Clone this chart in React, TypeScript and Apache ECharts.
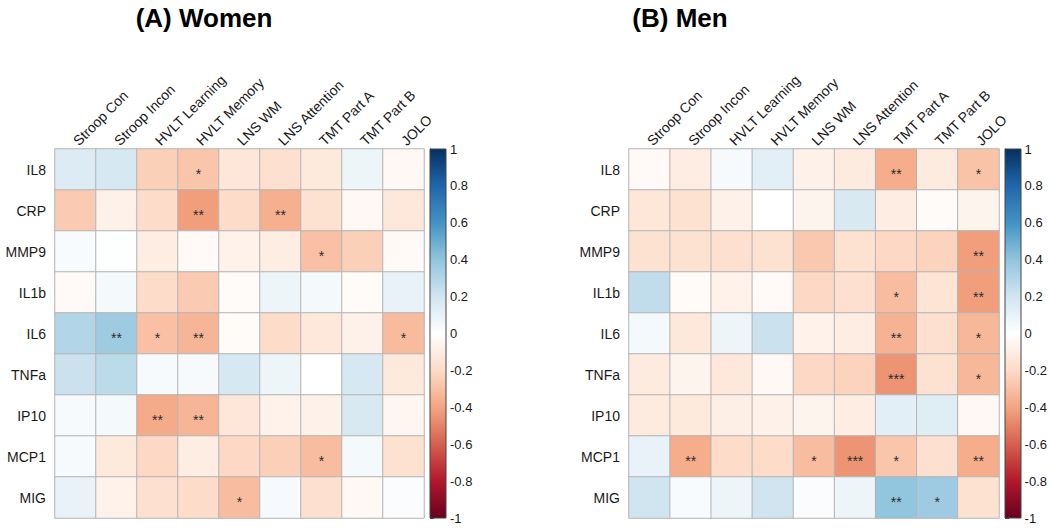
import React, { useEffect, useRef } from "react";
import * as echarts from "echarts";

const tests = ["Stroop Con", "Stroop Incon", "HVLT Learning", "HVLT Memory", "LNS WM", "LNS Attention", "TMT Part A", "TMT Part B", "JOLO"];
const markers = ["IL8", "CRP", "MMP9", "IL1b", "IL6", "TNFa", "IP10", "MCP1", "MIG"];

const womenValues = [
  [0.15, 0.18, -0.24, -0.28, -0.14, -0.17, -0.12, 0.08, -0.04],
  [-0.26, -0.08, -0.19, -0.42, -0.19, -0.36, -0.16, -0.04, -0.13],
  [0.03, 0.01, -0.1, -0.03, -0.07, -0.1, -0.3, -0.24, -0.03],
  [-0.03, 0.05, -0.19, -0.26, -0.02, 0.08, 0.05, -0.02, 0.1],
  [0.3, 0.36, -0.3, -0.34, -0.02, -0.19, -0.13, -0.08, -0.32],
  [0.22, 0.27, 0.04, 0.04, 0.18, 0.08, 0.0, 0.18, -0.12],
  [0.04, 0.05, -0.38, -0.34, -0.14, -0.07, -0.08, 0.17, -0.05],
  [0.04, -0.12, -0.21, -0.1, -0.21, -0.24, -0.31, 0.05, -0.16],
  [0.1, -0.07, -0.17, -0.19, -0.31, 0.04, -0.17, -0.04, 0.02],
];
const womenStars = [
  ["", "", "", "*", "", "", "", "", ""],
  ["", "", "", "**", "", "**", "", "", ""],
  ["", "", "", "", "", "", "*", "", ""],
  ["", "", "", "", "", "", "", "", ""],
  ["", "**", "*", "**", "", "", "", "", "*"],
  ["", "", "", "", "", "", "", "", ""],
  ["", "", "**", "**", "", "", "", "", ""],
  ["", "", "", "", "", "", "*", "", ""],
  ["", "", "", "", "*", "", "", "", ""],
];

const menValues = [
  [-0.03, -0.1, 0.04, 0.12, -0.08, -0.11, -0.37, -0.11, -0.29],
  [-0.14, -0.16, -0.08, 0.0, -0.06, 0.17, -0.1, -0.02, -0.06],
  [-0.16, -0.16, -0.17, -0.16, -0.27, -0.16, -0.21, -0.23, -0.42],
  [0.25, -0.02, -0.07, -0.03, -0.21, -0.17, -0.31, -0.15, -0.42],
  [0.05, -0.13, 0.08, 0.22, -0.07, -0.1, -0.35, -0.17, -0.33],
  [-0.11, -0.06, -0.13, -0.04, -0.21, -0.23, -0.45, -0.16, -0.33],
  [-0.11, -0.12, -0.09, -0.08, -0.06, -0.1, 0.12, 0.14, -0.04],
  [0.1, -0.37, -0.19, -0.19, -0.31, -0.45, -0.28, -0.17, -0.37],
  [0.2, 0.03, 0.08, 0.2, 0.02, 0.08, 0.4, 0.36, -0.16],
];
const menStars = [
  ["", "", "", "", "", "", "**", "", "*"],
  ["", "", "", "", "", "", "", "", ""],
  ["", "", "", "", "", "", "", "", "**"],
  ["", "", "", "", "", "", "*", "", "**"],
  ["", "", "", "", "", "", "**", "", "*"],
  ["", "", "", "", "", "", "***", "", "*"],
  ["", "", "", "", "", "", "", "", ""],
  ["", "**", "", "", "*", "***", "*", "", "**"],
  ["", "", "", "", "", "", "**", "*", ""],
];

const palette = ["#67001F", "#B2182B", "#D6604D", "#F4A582", "#FDDBC7", "#FFFFFF", "#D1E5F0", "#92C5DE", "#4393C3", "#2166AC", "#053061"];
const colorbarTicks = [-1, -0.8, -0.6, -0.4, -0.2, 0, 0.2, 0.4, 0.6, 0.8, 1];
const titles = ["(A) Women", "(B) Men"];

const FONT = "'Liberation Sans', Arial, Helvetica, sans-serif";

function buildData(values: number[][], stars: string[][]) {
  const out: any[] = [];
  values.forEach((row, r) =>
    row.forEach((v, c) => {
      out.push({ value: [c, r, v], star: stars[r][c] });
    })
  );
  return out;
}

export default function App() {
  const ref = useRef<HTMLDivElement>(null);
  useEffect(() => {
    if (!ref.current) return;
    const chart = echarts.init(ref.current, undefined, { renderer: "svg" });
    const panels = [
      { left: 55, top: 149, size: 369, cbLeft: 430, titleX: 204 },
      { left: 629, top: 149, size: 370, cbLeft: 1005, titleX: 680 },
    ];
    const grids: any[] = [];
    const xAxes: any[] = [];
    const yAxes: any[] = [];
    const series: any[] = [];
    const graphics: any[] = [];
    const datasets = [buildData(womenValues, womenStars), buildData(menValues, menStars)];
    const stops = palette
      .slice()
      .reverse()
      .map((c, i) => ({ offset: i / (palette.length - 1), color: c }));

    panels.forEach((p, i) => {
      grids.push({ left: p.left, top: p.top, width: p.size, height: 369 });
      xAxes.push({
        type: "category",
        data: tests,
        gridIndex: grids.length - 1,
        position: "top",
        axisLine: { show: false },
        axisTick: { show: false },
        splitLine: { show: false },
        axisLabel: { rotate: -45, interval: 0, margin: 6, fontSize: 14, color: "#1a1a1a", fontFamily: FONT },
      });
      yAxes.push({
        type: "category",
        data: markers,
        inverse: true,
        gridIndex: grids.length - 1,
        axisLine: { show: false },
        axisTick: { show: false },
        splitLine: { show: false },
        axisLabel: { margin: 9, fontSize: 14, color: "#1a1a1a", fontFamily: FONT },
      });
      series.push({
        type: "heatmap",
        xAxisIndex: xAxes.length - 1,
        yAxisIndex: yAxes.length - 1,
        data: datasets[i],
        itemStyle: { borderColor: "#b4b4b4", borderWidth: 1 },
        label: {
          show: true,
          formatter: (pr: any) => pr.data.star,
          fontSize: 14,
          color: "#2a2a2a",
          fontFamily: FONT,
          offset: [0, 4],
        },
        emphasis: { disabled: true },
      });
      grids.push({ left: p.cbLeft, top: p.top, width: 16, height: 369 });
      xAxes.push({ type: "value", gridIndex: grids.length - 1, show: false, min: 0, max: 1 });
      yAxes.push({
        type: "value",
        gridIndex: grids.length - 1,
        position: "right",
        min: -1,
        max: 1,
        interval: 0.2,
        axisLine: { show: true, lineStyle: { color: "#444", width: 1 } },
        axisTick: { show: true, length: 4, lineStyle: { color: "#444" } },
        splitLine: { show: false },
        axisLabel: {
          margin: 4,
          fontSize: 13,
          color: "#1a1a1a",
          fontFamily: FONT,
          customValues: colorbarTicks,
          formatter: (v: number) => String(Number(v.toFixed(1))),
        },
      });
      graphics.push({
        type: "rect",
        shape: { x: p.cbLeft, y: p.top, width: 16, height: 369 },
        style: { fill: new echarts.graphic.LinearGradient(0, 0, 0, 1, stops), stroke: "#444", lineWidth: 1 },
        z: 10,
      });
      graphics.push({
        type: "text",
        x: p.titleX,
        y: 18,
        style: {
          text: titles[i],
          font: `bold 26px ${FONT}`,
          fill: "#000",
          textAlign: "center",
          textVerticalAlign: "middle",
        },
        z: 10,
      });
    });

    chart.setOption({
      animation: false,
      backgroundColor: "#ffffff",
      grid: grids,
      xAxis: xAxes,
      yAxis: yAxes,
      visualMap: [
        { type: "continuous", min: -1, max: 1, show: false, seriesIndex: [0, 1], inRange: { color: palette } },
      ],
      series,
      graphic: graphics,
    });
    return () => chart.dispose();
  }, []);
  return <div ref={ref} style={{ position: "fixed", left: 0, top: 0, width: 1050, height: 529 }} />;
}
